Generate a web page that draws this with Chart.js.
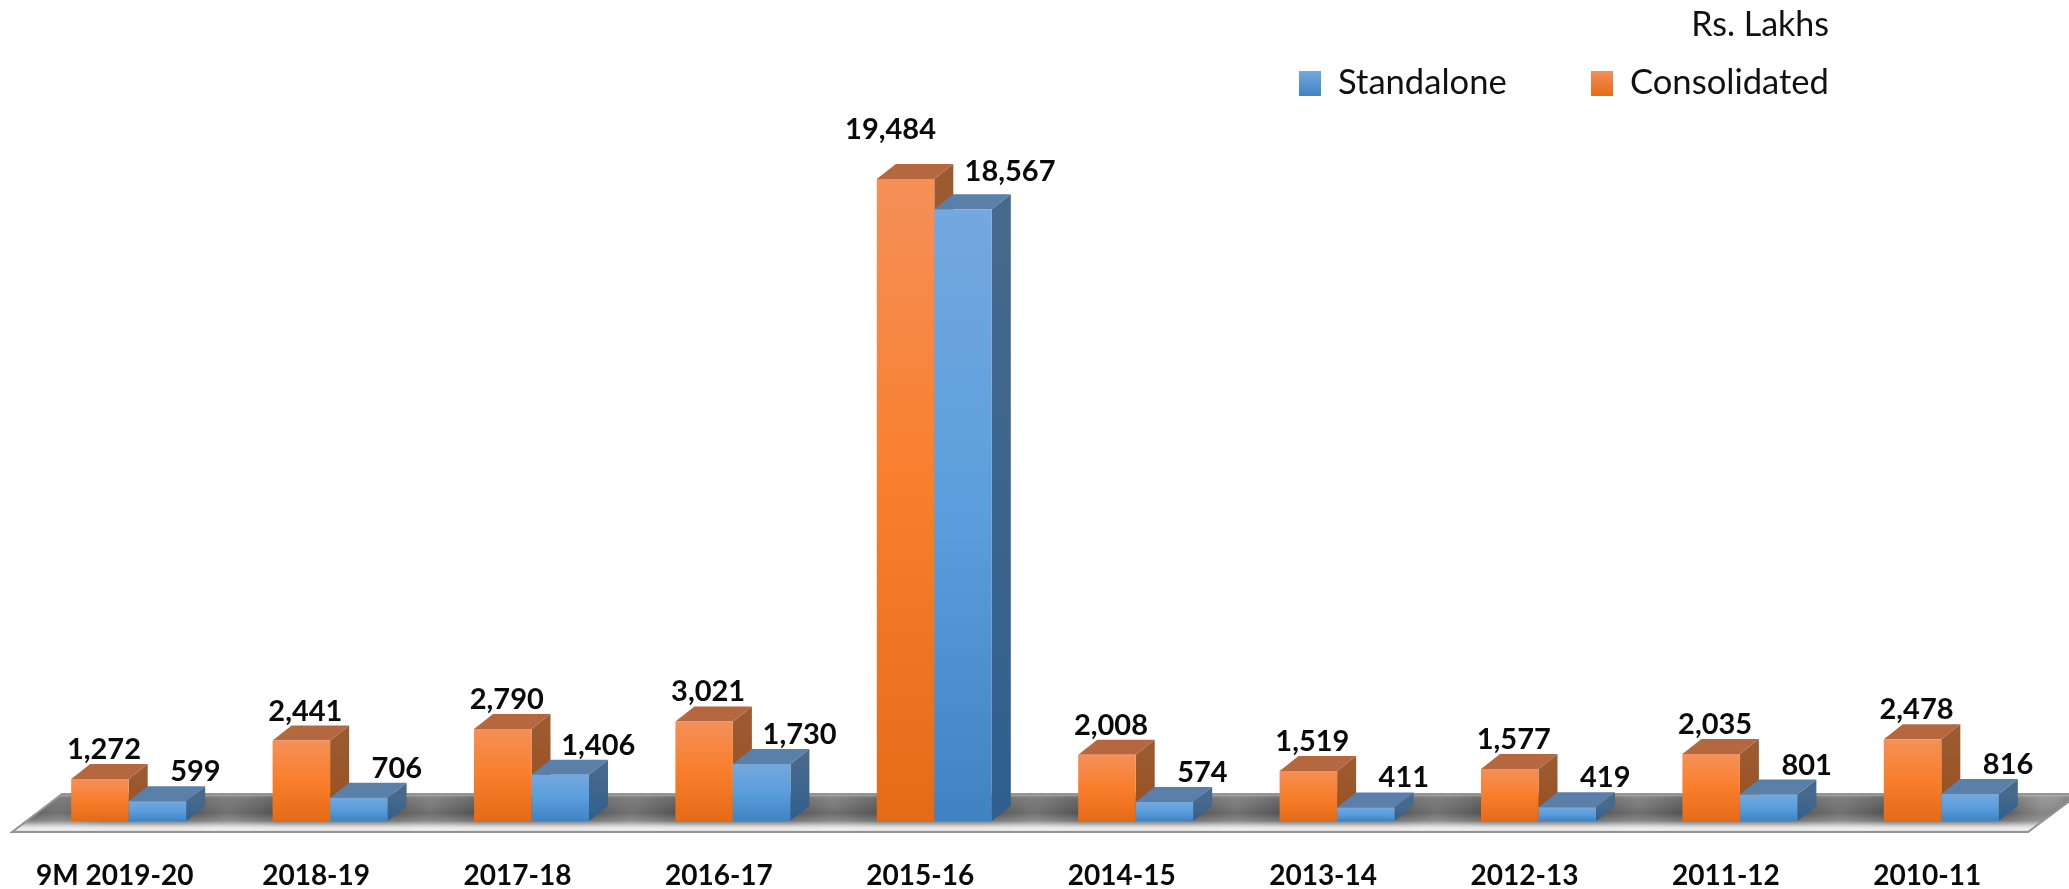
<!DOCTYPE html>
<html lang="en">
<head>
  <meta charset="UTF-8">
  <title>Rs. Lakhs</title>
  <script src="https://cdn.jsdelivr.net/npm/chart.js"></script>
  <style>
    body { margin: 0; background: #fff; font-family: Lato, sans-serif; color: #111; }
    #wrap { position: relative; width: 2069px; height: 889px; overflow: hidden; }
    canvas { position: absolute; left: 0; top: 0; }
    .unit { position: absolute; right: 240px; top: 3px; font-size: 34px; line-height: 40px; }
    .key { position: absolute; top: 61px; font-size: 34.6px; line-height: 40px; white-space: nowrap; }
    .key i { position: absolute; left: 0; top: 10px; width: 22px; height: 25px; }
    .key span { position: absolute; left: 39px; top: 0; }
  </style>
</head>
<body>
<div id="wrap">
  <canvas id="chart" width="2069" height="889"></canvas>
  <div class="unit">Rs. Lakhs</div>
  <div class="key" style="left:1299px"><i style="background:linear-gradient(#74a8de,#4083c3)"></i><span id="keyStandalone"></span></div>
  <div class="key" style="left:1591px"><i style="background:linear-gradient(#f59058,#e56b17)"></i><span id="keyConsolidated"></span></div>
</div>

<script>
  const categories = ['9M 2019-20', '2018-19', '2017-18', '2016-17', '2015-16', '2014-15', '2013-14', '2012-13', '2011-12', '2010-11'];
  const consolidated = [1272, 2441, 2790, 3021, 19484, 2008, 1519, 1577, 2035, 2478];
  const standalone = [599, 706, 1406, 1730, 18567, 574, 411, 419, 801, 816];

  document.getElementById('keyStandalone').textContent = 'Standalone';
  document.getElementById('keyConsolidated').textContent = 'Consolidated';

  // depth of the fake 3D boxes
  const DX = 19;
  const DY = 15;

  function frontFill(stops) {
    return (c) => {
      const area = c.chart.chartArea;
      if (!area || !c.parsed) return stops[1];
      const y = c.chart.scales.y;
      const g = c.chart.ctx.createLinearGradient(0, y.getPixelForValue(c.parsed.y), 0, y.getPixelForValue(0));
      g.addColorStop(0, stops[0]);
      g.addColorStop(0.5, stops[1]);
      g.addColorStop(1, stops[2]);
      return g;
    };
  }

  function trace(ctx, pts) {
    ctx.beginPath();
    pts.forEach((p, i) => (i ? ctx.lineTo(p[0], p[1]) : ctx.moveTo(p[0], p[1])));
    ctx.closePath();
  }

  function poly(ctx, pts, fill) {
    trace(ctx, pts);
    ctx.fillStyle = fill;
    ctx.fill();
  }

  function drawFloor(chart) {
    const ctx = chart.ctx;
    const { left, right } = chart.chartArea;
    const base = chart.scales.y.getPixelForValue(0);
    const pts = [[left - 16, base + 11], [left + 34, base - 27], [right + 37, base - 27], [right - 14, base + 11]];

    const floor = ctx.createLinearGradient(0, base - 27, 0, base + 11);
    floor.addColorStop(0, '#a8a8a8');
    floor.addColorStop(0.1, '#6a6a6a');
    floor.addColorStop(0.5, '#505050');
    floor.addColorStop(0.7, '#747474');
    floor.addColorStop(0.86, '#dcdcdc');
    floor.addColorStop(0.93, '#efefef');
    floor.addColorStop(1, '#c8c8c8');
    poly(ctx, pts, floor);

    ctx.save();
    trace(ctx, pts);
    ctx.clip();
    // soft light patches between the groups and toward both ends
    const x = chart.scales.x;
    const spots = categories.map((_, i) => x.getPixelForTick(i) + 100);
    spots.concat([left + 30, right + 10]).forEach((sx, i) => {
      const cy = base - (i % 2 ? 16 : 6);
      const g = ctx.createRadialGradient(sx, cy, 0, sx, cy, 50);
      g.addColorStop(0, 'rgba(255,255,255,0.2)');
      g.addColorStop(1, 'rgba(255,255,255,0)');
      ctx.fillStyle = g;
      ctx.fillRect(sx - 50, base - 27, 100, 38);
    });
    ctx.restore();

    trace(ctx, pts);
    ctx.strokeStyle = '#949494';
    ctx.lineWidth = 2;
    ctx.stroke();
  }

  // grey platform under the bars, plus top and side faces of each bar
  const boxes = {
    id: 'boxes',
    beforeDatasetsDraw(chart) {
      const ctx = chart.ctx;
      drawFloor(chart);

      const faces = [
        { top: '#b5683f', side: ['#9c5a31', '#97501a'] },
        { top: '#5a7fa9', side: ['#47698c', '#2f5f8e'] },
      ];
      faces.forEach((f, d) => {
        chart.getDatasetMeta(d).data.forEach((bar) => {
          const x0 = bar.x - bar.width / 2;
          const x1 = bar.x + bar.width / 2;
          const side = ctx.createLinearGradient(0, bar.y, 0, bar.base);
          side.addColorStop(0, f.side[0]);
          side.addColorStop(1, f.side[1]);
          poly(ctx, [[x1, bar.y], [x1 + DX, bar.y - DY], [x1 + DX, bar.base - DY], [x1, bar.base]], side);
          poly(ctx, [[x0, bar.y], [x0 + DX, bar.y - DY], [x1 + DX, bar.y - DY], [x1, bar.y]], f.top);
        });
      });
    },
    afterDatasetsDraw(chart) {
      const ctx = chart.ctx;
      ctx.save();
      ctx.font = 'bold 29px Lato, sans-serif';
      ctx.fillStyle = '#0a0a0a';
      ctx.textAlign = 'center';
      ctx.textBaseline = 'alphabetic';
      chart.data.datasets.forEach((ds, d) => {
        chart.getDatasetMeta(d).data.forEach((bar, i) => {
          const v = ds.data[i];
          const tall = v > 10000;
          let dx = d === 0 ? 4 : 38;
          let dy = 20;
          if (tall) {
            dx = d === 0 ? -15 : 47;
            dy = d === 0 ? 40 : 28;
          }
          ctx.fillText(v.toLocaleString('en-US'), bar.x + dx, bar.y - dy);
        });
      });
      ctx.restore();
    },
  };

  new Chart(document.getElementById('chart').getContext('2d'), {
    type: 'bar',
    data: {
      labels: categories,
      datasets: [
        { label: 'Consolidated', data: consolidated, backgroundColor: frontFill(['#f59058', '#f97e2b', '#e56b17']) },
        { label: 'Standalone', data: standalone, backgroundColor: frontFill(['#74a8de', '#5a9edd', '#4083c3']) },
      ],
    },
    options: {
      responsive: false,
      animation: false,
      layout: { padding: { left: 28, right: 27, top: 162, bottom: 0 } },
      categoryPercentage: 0.571,
      barPercentage: 1,
      plugins: { legend: { display: false }, tooltip: { enabled: false } },
      scales: {
        x: {
          grid: { display: false },
          border: { display: false },
          afterFit(scale) { scale.height = 68; },
          ticks: {
            autoSkip: false,
            maxRotation: 0,
            labelOffset: -14,
            padding: 30,
            color: '#0a0a0a',
            font: { family: 'Lato, sans-serif', size: 28, weight: 'bold' },
          },
        },
        y: { display: false, min: 0, max: 20000 },
      },
    },
    plugins: [boxes],
  });
</script>
</body>
</html>
